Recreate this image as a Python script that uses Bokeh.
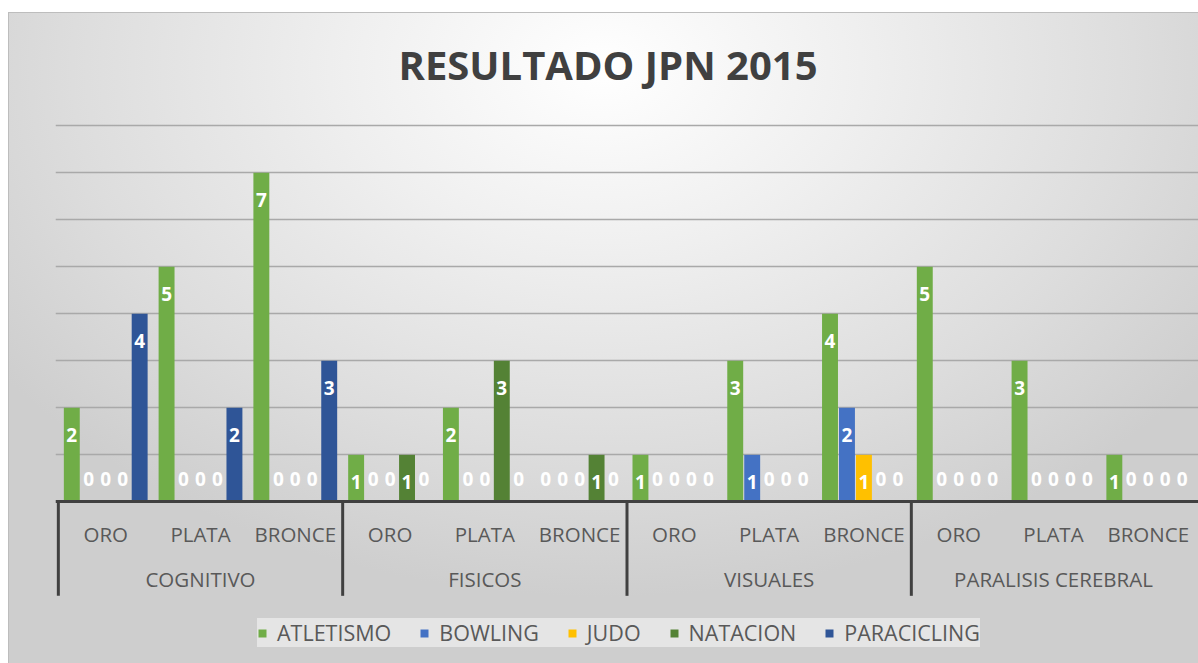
from bokeh.plotting import figure
from bokeh.models import (FactorRange, ColumnDataSource, CategoricalAxis, FixedTicker,
                          Legend, LegendItem, Range1d, Grid)
from bokeh.core.properties import value
from bokeh.embed import file_html
from bokeh.resources import INLINE
from bokeh.transform import dodge

# ---------------- data ----------------
chart_title = "RESULTADO JPN 2015"
categories = ["COGNITIVO", "FISICOS", "VISUALES", "PARALISIS CEREBRAL"]
medals = ["ORO", "PLATA", "BRONCE"]
series = ["ATLETISMO", "BOWLING", "JUDO", "NATACION", "PARACICLING"]
atletismo = [2, 5, 7, 1, 2, 0, 1, 3, 4, 5, 3, 1]
bowling = [0, 0, 0, 0, 0, 0, 0, 1, 2, 0, 0, 0]
judo = [0, 0, 0, 0, 0, 0, 0, 0, 1, 0, 0, 0]
natacion = [0, 0, 0, 1, 3, 1, 0, 0, 0, 0, 0, 0]
paracicling = [4, 2, 3, 0, 0, 0, 0, 0, 0, 0, 0, 0]
grid_ticks = [1, 2, 3, 4, 5, 6, 7, 8]

# ---------------- styling ----------------
colors = ["#70AD47", "#4472C4", "#FFC000", "#548235", "#2F5597"]
FONT = "Open Sans"
slot = 0.179
bar_w = 0.168
pad = 0.03

values = [atletismo, bowling, judo, natacion, paracicling]
factors = [(c, m) for c in categories for m in medals]

data = {"x": factors}
for name, vals in zip(series, values):
    data[name] = vals
    data[name + "_lbl"] = [str(v) for v in vals]
    data[name + "_off"] = [27 if v > 0 else -23 for v in vals]
src = ColumnDataSource(data)

x_range = FactorRange(*factors, group_padding=0, factor_padding=0,
                      range_padding=pad, range_padding_units="absolute")

p = figure(width=1190, height=661, x_range=x_range, y_range=Range1d(-3.44, 8.05),
           output_backend="svg", toolbar_location=None,
           x_axis_location=None, y_axis_location=None,
           min_border_left=47, min_border_right=0, min_border_top=121,
           min_border_bottom=0)
p.margin = (2, 0, 0, 8)
p.border_fill_color = None
p.background_fill_color = None
p.outline_line_color = None
p.styles = {
    "background": ("linear-gradient(#ffffff, #ffffff) 0 0 / 100% 10px no-repeat, "
                   "linear-gradient(#bdbdbd, #bdbdbd) 0 10px / 100% 1px no-repeat, "
                   "linear-gradient(#bdbdbd, #bdbdbd) 0 10px / 1px 100% no-repeat, "
                   "radial-gradient(ellipse 62% 80% at 50% 10%, #ffffff 0%, #efefef 35%, #dddddd 72%, #cecece 100%)"),
}
for g in p.grid:
    g.visible = False

# title
p.title.text = chart_title
p.title.align = "left"
p.title.offset = 343
p.title.vertical_align = "bottom"
p.title.standoff = 63
p.title.text_font = FONT
p.title.text_font_size = "40px"
p.title.text_font_style = "bold"
p.title.text_color = "#404040"

# gridlines
p.add_layout(Grid(dimension=1, ticker=FixedTicker(ticks=grid_ticks),
                  grid_line_color="#a9a9a9", grid_line_width=1.6))

# bars + labels
items = []
n = len(series)
for i, (name, col) in enumerate(zip(series, colors)):
    off = slot * (i - (n - 1) / 2)
    r = p.vbar(x=dodge("x", off, range=p.x_range), top=name, width=bar_w,
               source=src, fill_color=col, line_color=None)
    items.append(LegendItem(label=name, renderers=[r]))
    p.text(x=dodge("x", off, range=p.x_range), y=name, text=name + "_lbl",
           y_offset=name + "_off", source=src, text_align="center",
           text_baseline="middle", text_color="white", text_font=value(FONT),
           text_font_style="bold", text_font_size="19px")

# category boundary lines in the axis table
n_m = len(medals)
bx = [i * n_m for i in range(len(categories))]
p.segment(x0=bx, y0=[0] * len(bx), x1=bx, y1=[-2] * len(bx),
          line_color="#404040", line_width=3)

# medal axis
ax = CategoricalAxis(fixed_location=0)
ax.axis_line_color = "#404040"
ax.axis_line_width = 3
ax.major_tick_line_color = None
ax.minor_tick_line_color = None
ax.major_tick_out = 0
ax.major_tick_in = 0
ax.major_label_standoff = 18
ax.major_label_text_font = FONT
ax.major_label_text_font_size = "20.5px"
ax.major_label_text_color = "#595959"
ax.group_text_color = None
ax.separator_line_color = None
p.add_layout(ax, "below")

# category axis
p.extra_x_ranges["cats"] = FactorRange(*categories, range_padding=pad / n_m,
                                       range_padding_units="absolute")
ax2 = CategoricalAxis(x_range_name="cats", fixed_location=-1)
ax2.axis_line_color = None
ax2.major_tick_line_color = None
ax2.minor_tick_line_color = None
ax2.major_tick_out = 0
ax2.major_tick_in = 0
ax2.major_label_standoff = 16
ax2.major_label_text_font = FONT
ax2.major_label_text_font_size = "20.5px"
ax2.major_label_text_color = "#595959"
p.add_layout(ax2, "below")

legend = Legend(items=items, orientation="horizontal", location=(202, 16),
                background_fill_color="#ececec", background_fill_alpha=0.75,
                border_line_color=None, label_text_font=FONT,
                label_text_font_size="21.5px", label_text_color="#595959",
                glyph_width=10, glyph_height=10, label_standoff=10, spacing=28,
                padding=20, margin=0)
p.add_layout(legend)

open("out.html", "w").write(file_html(p, INLINE))
